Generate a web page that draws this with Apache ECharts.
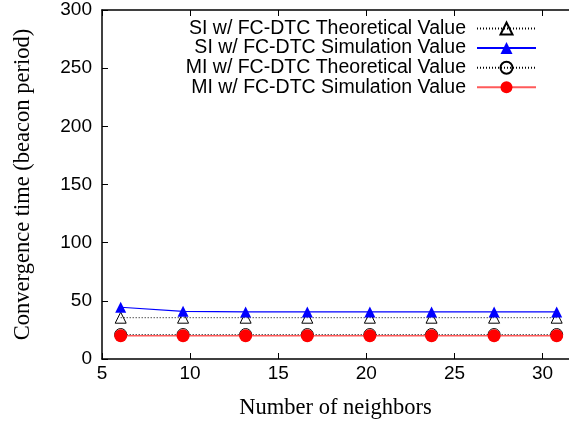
<!DOCTYPE html>
<html>
<head>
<meta charset="utf-8">
<script src="https://cdn.jsdelivr.net/npm/echarts@6/dist/echarts.min.js"></script>
<style>
  html, body { margin: 0; padding: 0; background: #fff; }
  #chart { width: 569px; height: 425px; }
</style>
</head>
<body>
<div id="chart"></div>
<script>
// Average number of neighbors per node
const neighbors = [6.06, 9.6, 13.15, 16.65, 20.2, 23.7, 27.25, 30.8];

// Convergence time in beacon periods
const siTheoretical = [35.5, 35.5, 35.5, 35.5, 35.5, 35.5, 35.5, 35.5];
const siSimulation  = [44.5, 41, 40.5, 40.5, 40.5, 40.5, 40.5, 40.5];
const miTheoretical = [21, 21, 21, 21, 21, 21, 21, 21];
const miSimulation  = [20, 20, 20, 20, 20, 20, 20, 20];

const seriesNames = [
  'SI w/ FC-DTC Theoretical Value',
  'SI w/ FC-DTC Simulation Value',
  'MI w/ FC-DTC Theoretical Value',
  'MI w/ FC-DTC Simulation Value'
];

const xTicks = [5, 10, 15, 20, 25, 30];
const yTicks = [0, 50, 100, 150, 200, 250, 300];

const pairs = ys => neighbors.map((x, i) => [x, ys[i]]);

const sansFont = '"Liberation Sans", Arial, sans-serif';
const serifFont = '"Liberation Serif", "Times New Roman", serif';

const chart = echarts.init(document.getElementById('chart'), null, { renderer: 'canvas' });

chart.setOption({
  animation: false,
  backgroundColor: '#fff',
  grid: { left: 102, right: 0, top: 10, bottom: 65, show: false },
  legend: {
    orient: 'vertical',
    right: 32,
    top: 18.5,
    align: 'right',
    padding: 0,
    itemWidth: 59,
    itemHeight: 15,
    itemGap: -0.4,
    textStyle: { fontFamily: sansFont, fontSize: 19.5, color: '#000', padding: [0, 6, 0, 0] },
    data: seriesNames
  },
  xAxis: [{
    type: 'value',
    min: 5,
    max: 31.5,
    interval: 5,
    axisLine: { show: true, onZero: false, lineStyle: { color: '#000', width: 1.5 } },
    axisTick: { show: true, inside: true, length: 6, lineStyle: { color: '#000', width: 1 },
      customValues: xTicks },
    axisLabel: { fontFamily: sansFont, fontSize: 19, color: '#000', margin: 5,
      customValues: xTicks },
    splitLine: { show: false },
    name: 'Number of neighbors',
    nameLocation: 'middle',
    nameGap: 38,
    nameTextStyle: { fontFamily: serifFont, fontSize: 22.5, color: '#000' }
  }, {
    type: 'value',
    position: 'top',
    min: 5,
    max: 31.5,
    interval: 5,
    axisLine: { show: true, onZero: false, lineStyle: { color: '#000', width: 1.5 } },
    axisTick: { show: true, inside: true, length: 6, lineStyle: { color: '#000', width: 1 },
      customValues: xTicks },
    axisLabel: { show: false },
    splitLine: { show: false }
  }],
  yAxis: {
    type: 'value',
    min: 0,
    max: 300,
    interval: 50,
    axisLine: { show: true, onZero: false, lineStyle: { color: '#000', width: 1.5 } },
    axisTick: { show: true, inside: true, length: 6, lineStyle: { color: '#000', width: 1 },
      customValues: yTicks },
    axisLabel: { fontFamily: sansFont, fontSize: 19, color: '#000', margin: 10,
      customValues: yTicks },
    splitLine: { show: false },
    name: 'Convergence time (beacon period)',
    nameLocation: 'middle',
    nameGap: 67,
    nameTextStyle: { fontFamily: serifFont, fontSize: 22.5, color: '#000' }
  },
  series: [{
    name: seriesNames[2],
    type: 'line',
    data: pairs(miTheoretical),
    symbol: 'circle',
    symbolSize: 12,
    lineStyle: { color: '#000', width: 1, type: [1, 2] },
    itemStyle: { color: 'rgba(255,255,255,0)', borderColor: '#000', borderWidth: 1 },
    z: 2
  }, {
    name: seriesNames[3],
    type: 'line',
    data: pairs(miSimulation),
    symbol: 'circle',
    symbolSize: 13,
    lineStyle: { color: '#ff5a5a', width: 1.5 },
    itemStyle: { color: '#ff0000', borderWidth: 0 },
    z: 3
  }, {
    name: seriesNames[0],
    type: 'line',
    data: pairs(siTheoretical),
    symbol: 'triangle',
    symbolSize: 11,
    lineStyle: { color: '#000', width: 1, type: [1, 2] },
    itemStyle: { color: 'rgba(255,255,255,0)', borderColor: '#000', borderWidth: 1 },
    z: 4
  }, {
    name: seriesNames[1],
    type: 'line',
    data: pairs(siSimulation),
    symbol: 'triangle',
    symbolSize: 11,
    lineStyle: { color: '#0000ff', width: 1.2 },
    itemStyle: { color: '#0000ff', borderWidth: 0 },
    z: 5
  }]
});
</script>
</body>
</html>
